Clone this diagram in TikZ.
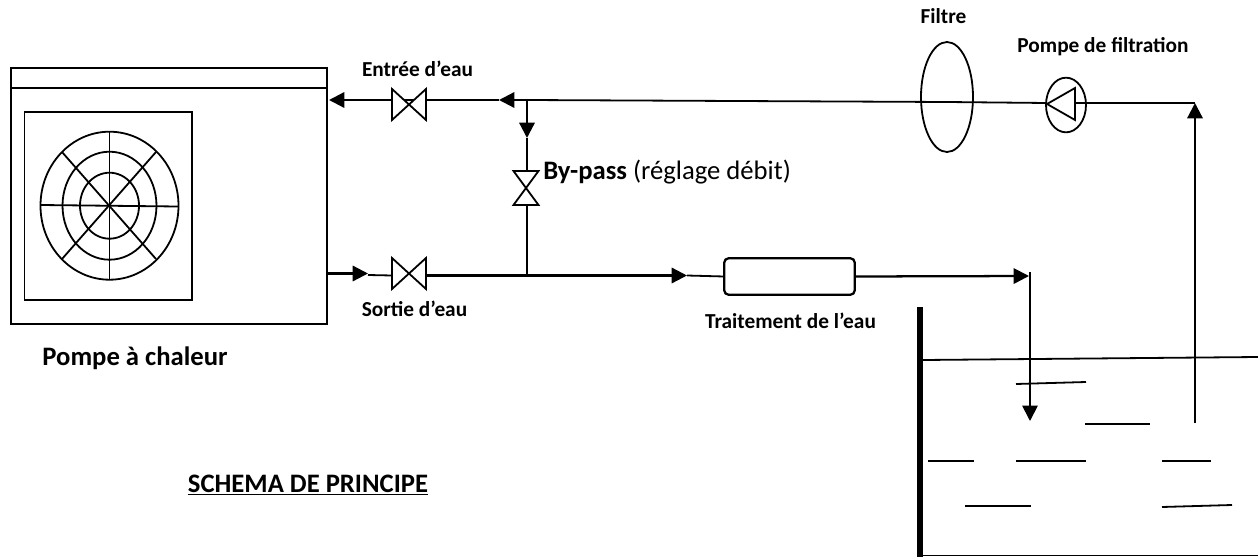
\documentclass[tikz,border=0pt]{standalone}
\usepackage{fontspec}
\setmainfont{Carlito}
\usetikzlibrary{arrows.meta,shapes.geometric}
\tikzset{
  x=0.75pt,y=-0.75pt,
  ln/.style={draw=black,line width=1.7pt},
  thin line/.style={draw=black,line width=1.35pt},
  tip/.style={-{Triangle[length=11.5pt,width=11.5pt]}},
  lbl/.style={inner sep=0pt,font=\bfseries\fontsize{16}{18}\selectfont,anchor=base},
  lblbig/.style={inner sep=0pt,font=\bfseries\fontsize{20}{24}\selectfont,anchor=base},
  nopad/.style={inner sep=0pt,outer sep=0pt,minimum size=0pt},
}
\newcommand{\hvalve}[2]{\draw[thin line,fill=white] (#1-17,#2-15.5) -- (#1+17,#2+15.5) -- (#1+17,#2-15.5) -- (#1-17,#2+15.5) -- cycle;}
\newcommand{\vvalve}[2]{\draw[thin line,fill=white] (#1-12.5,#2-17) -- (#1+12.5,#2-17) -- (#1-12.5,#2+17) -- (#1+12.5,#2+17) -- cycle;}
\begin{document}
\begin{tikzpicture}
\useasboundingbox (0,0) rectangle (1258,557);
% heat pump
\node[nopad,ln,draw,minimum width=237pt,minimum height=192pt] (hp) at (169,196) {};
\coordinate (bandL) at (11,88); \coordinate (bandR) at (327,88);
\draw[ln] (bandL) -- (bandR);
\node[nopad,thin line,draw,minimum width=125.6pt,minimum height=141pt] (inner) at (108.3,206) {};
% fan
\coordinate (fan) at (109.5,205.7);
\draw[thin line] (fan) ellipse [x radius=69,y radius=74];
\draw[thin line] (fan) ellipse [x radius=47,y radius=54];
\draw[thin line] (fan) ellipse [x radius=29.5,y radius=33];
\draw[thin line] (40.7,205) -- (178,206.5);
\draw[thin line] (109.5,131.7) -- (109.5,279.7);
\draw[thin line] (62,152) -- (156,259);
\draw[thin line] (156,152) -- (62,259);
% treatment, filter, pump
\node[nopad,ln,draw,rounded corners=3.5pt,minimum width=98pt,minimum height=27.5pt] (traitement) at (789.5,276.5) {};
\node[nopad,ellipse,thin line,draw,minimum width=39pt,minimum height=82.5pt] (filtre) at (947,97) {};
\node[nopad,ellipse,thin line,draw,minimum width=30pt,minimum height=41pt] (pompe) at (1066,105) {};
% named junctions
\coordinate (hpin) at (329,100);
\coordinate (hpout) at (326,273.5);
\coordinate (tee) at (527,100);
\coordinate (arrowtop) at (499,100);
\coordinate (corner) at (1195,103);
\coordinate (teeb) at (527,275.5);
\coordinate (bydown) at (527,138);
\coordinate (bytop) at (527,171);
\coordinate (bybot) at (527,205);
\coordinate (outtip) at (368,273.5);
\coordinate (outafter) at (368,275);
\coordinate (valvein) at (392,275.5);
\coordinate (valveout) at (426,275.5);
\coordinate (treattip) at (687,275.5);
\coordinate (tanktip) at (1029,276);
\coordinate (droptop) at (1030,272);
\coordinate (dropend) at (1030,421);
\coordinate (suction) at (1195,423);
% pipes
\draw[ln,tip] (tee) -- (arrowtop);
\draw[ln,tip] (arrowtop) -- (hpin);
\draw[thin line] (tee) -- (947,102) -- (1047,103);
\draw[ln] (1075,103) -- (corner);
\draw[ln,tip] (tee) -- (bydown);
\draw[thin line] (bydown) -- (bytop);
\draw[thin line] (bybot) -- (teeb);
\draw[ln,tip] (hpout) -- (outtip);
\draw[thin line] (outafter) -- (valvein);
\draw[ln,tip] (valveout) -- (treattip);
\draw[thin line] (treattip) -- (traitement.west);
\draw[ln,tip] (traitement.east) -- (tanktip);
\draw[thin line,tip] (droptop) -- (dropend);
\draw[ln,tip] (suction) -- (corner);
\hvalve{409}{104.5}
\hvalve{409}{273.5}
\vvalve{526}{188}
\draw[thin line] (1047,104) -- (1075,88) -- (1075,120) -- cycle;
% tank
\draw[black,line width=4.5pt] (920,307) -- (920,557);
\draw[thin line] (923,555.5) -- (1258,555.5);
\draw[thin line] (923,360) -- (1258,357);
\foreach \a/\b/\c/\d in {1016/384/1086/382, 1085/424/1150/424, 928/461/974/461, 1016/461/1086/461, 1162/461/1211/461, 965/506/1031/506, 1162/507/1232/505}
  \draw[thin line] (\a,\b) -- (\c,\d);
% labels
\node[lbl] (t1) at (417.5,76) {Entrée d’eau};
\node[lbl] (t2) at (414.5,316) {Sortie d’eau};
\node[lbl] (t3) at (790.5,328) {Traitement de l’eau};
\node[lbl] (t4) at (943.5,23) {Filtre};
\node[lbl] (t5) at (1103,52) {Pompe de filtration};
\node[inner sep=0pt,anchor=base west,font=\fontsize{20}{24}\selectfont] (t6) at (543,179) {\textbf{By-pass} (réglage débit)};
\node[lblbig] (t7) at (135,365) {Pompe à chaleur};
\node[lblbig] (t8) at (308,492) {\underline{SCHEMA DE PRINCIPE}};
\end{tikzpicture}
\end{document}
